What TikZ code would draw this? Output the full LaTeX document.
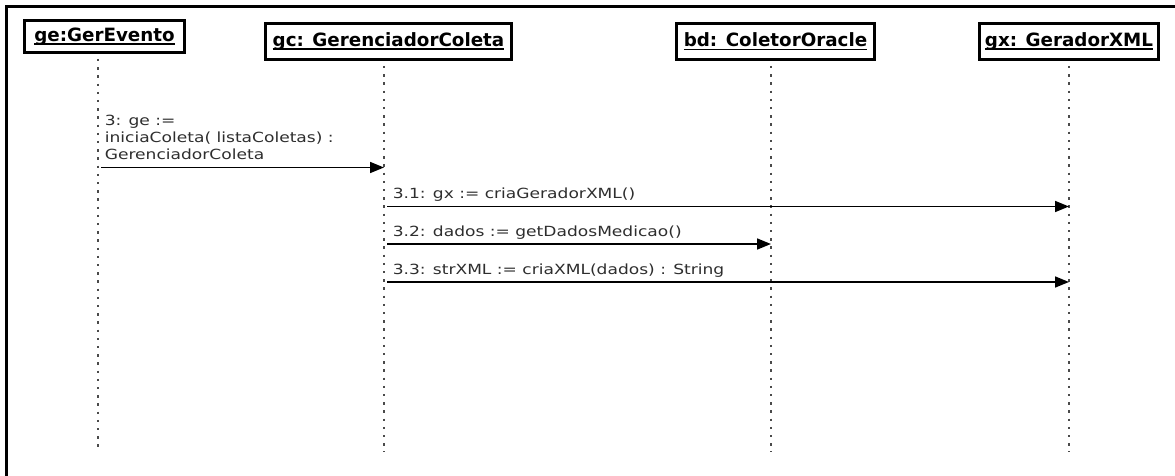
\documentclass[tikz,border=0pt]{standalone}
\usepackage{fontspec}
\setmainfont{DejaVu Sans}
\newfontfamily\msgfont[FakeStretch=1.22]{DejaVu Sans}
\usetikzlibrary{arrows.meta}
\definecolor{msgtext}{HTML}{2E2E2E}
\definecolor{lifegray}{HTML}{4A4A4A}
% object name, underlined through the descenders
\newcommand\objname[1]{\setbox0=\hbox{#1}\rlap{\rule[-3.6pt]{\wd0}{1.6pt}}\box0}

\begin{document}
\begin{tikzpicture}[x=1pt, y=-1pt,
  objbox/.style={draw=black, line width=1.8pt, inner sep=0pt,
    font=\fontsize{18.3}{22}\selectfont\bfseries},
  innerframe/.style={draw=black, line width=0.9pt},
  lifeline/.style={draw=lifegray, line width=2.4pt, dash pattern=on 2.4pt off 5.8pt},
  msg/.style={draw=black, line width=1.6pt, -{Triangle[length=14pt,width=11pt]}, shorten <=3pt},
  lbl/.style={font=\msgfont\fontsize{14}{17}\selectfont, text=msgtext, anchor=base west, inner sep=0pt}
]
\useasboundingbox (0,0) rectangle (1175,476);

% frame (top and left edges)
\draw[line width=3pt] (6.5,476) -- (6.5,6.5) -- (1175,6.5);

% objects
\node[objbox, minimum width=161.2pt, minimum height=33.2pt] (ge) at (104.5,36.5) {\objname{ge:GerEvento}};
\node[objbox, minimum width=247.2pt, minimum height=37.2pt] (gc) at (388.5,41.5) {\objname{gc: GerenciadorColeta}};
\node[objbox, minimum width=199.2pt, minimum height=37.2pt] (bd) at (775.5,41.5) {\objname{bd: ColetorOracle}};
\node[objbox, minimum width=180.2pt, minimum height=37.2pt] (gx) at (1069,41.5) {\objname{gx: GeradorXML}};
\foreach \n in {ge,gc,bd,gx}
  \draw[innerframe] ([shift={(2.7pt,-2.7pt)}]\n.north west) rectangle ([shift={(-2.7pt,2.7pt)}]\n.south east);

% lifeline ends
\coordinate (geEnd) at (98,452);
\coordinate (gcEnd) at (384,452);
\coordinate (bdEnd) at (771,452);
\coordinate (gxEnd) at (1069,452);

\draw[lifeline] (ge.south -| geEnd) ++(0,5) -- (geEnd);
\draw[lifeline] (gc.south -| gcEnd) ++(0,5) -- (gcEnd);
\draw[lifeline] (bd.south -| bdEnd) ++(0,5) -- (bdEnd);
\draw[lifeline] (gx.south -| gxEnd) ++(0,5) -- (gxEnd);

% message rows
\coordinate (m3) at (0,167.5);
\coordinate (m31) at (0,206.5);
\coordinate (m32) at (0,244);
\coordinate (m33) at (0,282);

\draw[msg] (geEnd |- m3) -- (gcEnd |- m3)
  node[lbl, pos=0, xshift=6pt, yshift=8pt]
  {\begin{tabular}[b]{@{}l@{}}3: ge :=\\iniciaColeta( listaColetas) :\\GerenciadorColeta\end{tabular}};
\draw[msg] (gcEnd |- m31) -- (gxEnd |- m31)
  node[lbl, pos=0, xshift=8pt, yshift=8pt] {3.1: gx := criaGeradorXML()};
\draw[msg] (gcEnd |- m32) -- (bdEnd |- m32)
  node[lbl, pos=0, xshift=8pt, yshift=8pt] {3.2: dados := getDadosMedicao()};
\draw[msg] (gcEnd |- m33) -- (gxEnd |- m33)
  node[lbl, pos=0, xshift=8pt, yshift=8pt] {3.3: strXML := criaXML(dados) : String};
\end{tikzpicture}
\end{document}
